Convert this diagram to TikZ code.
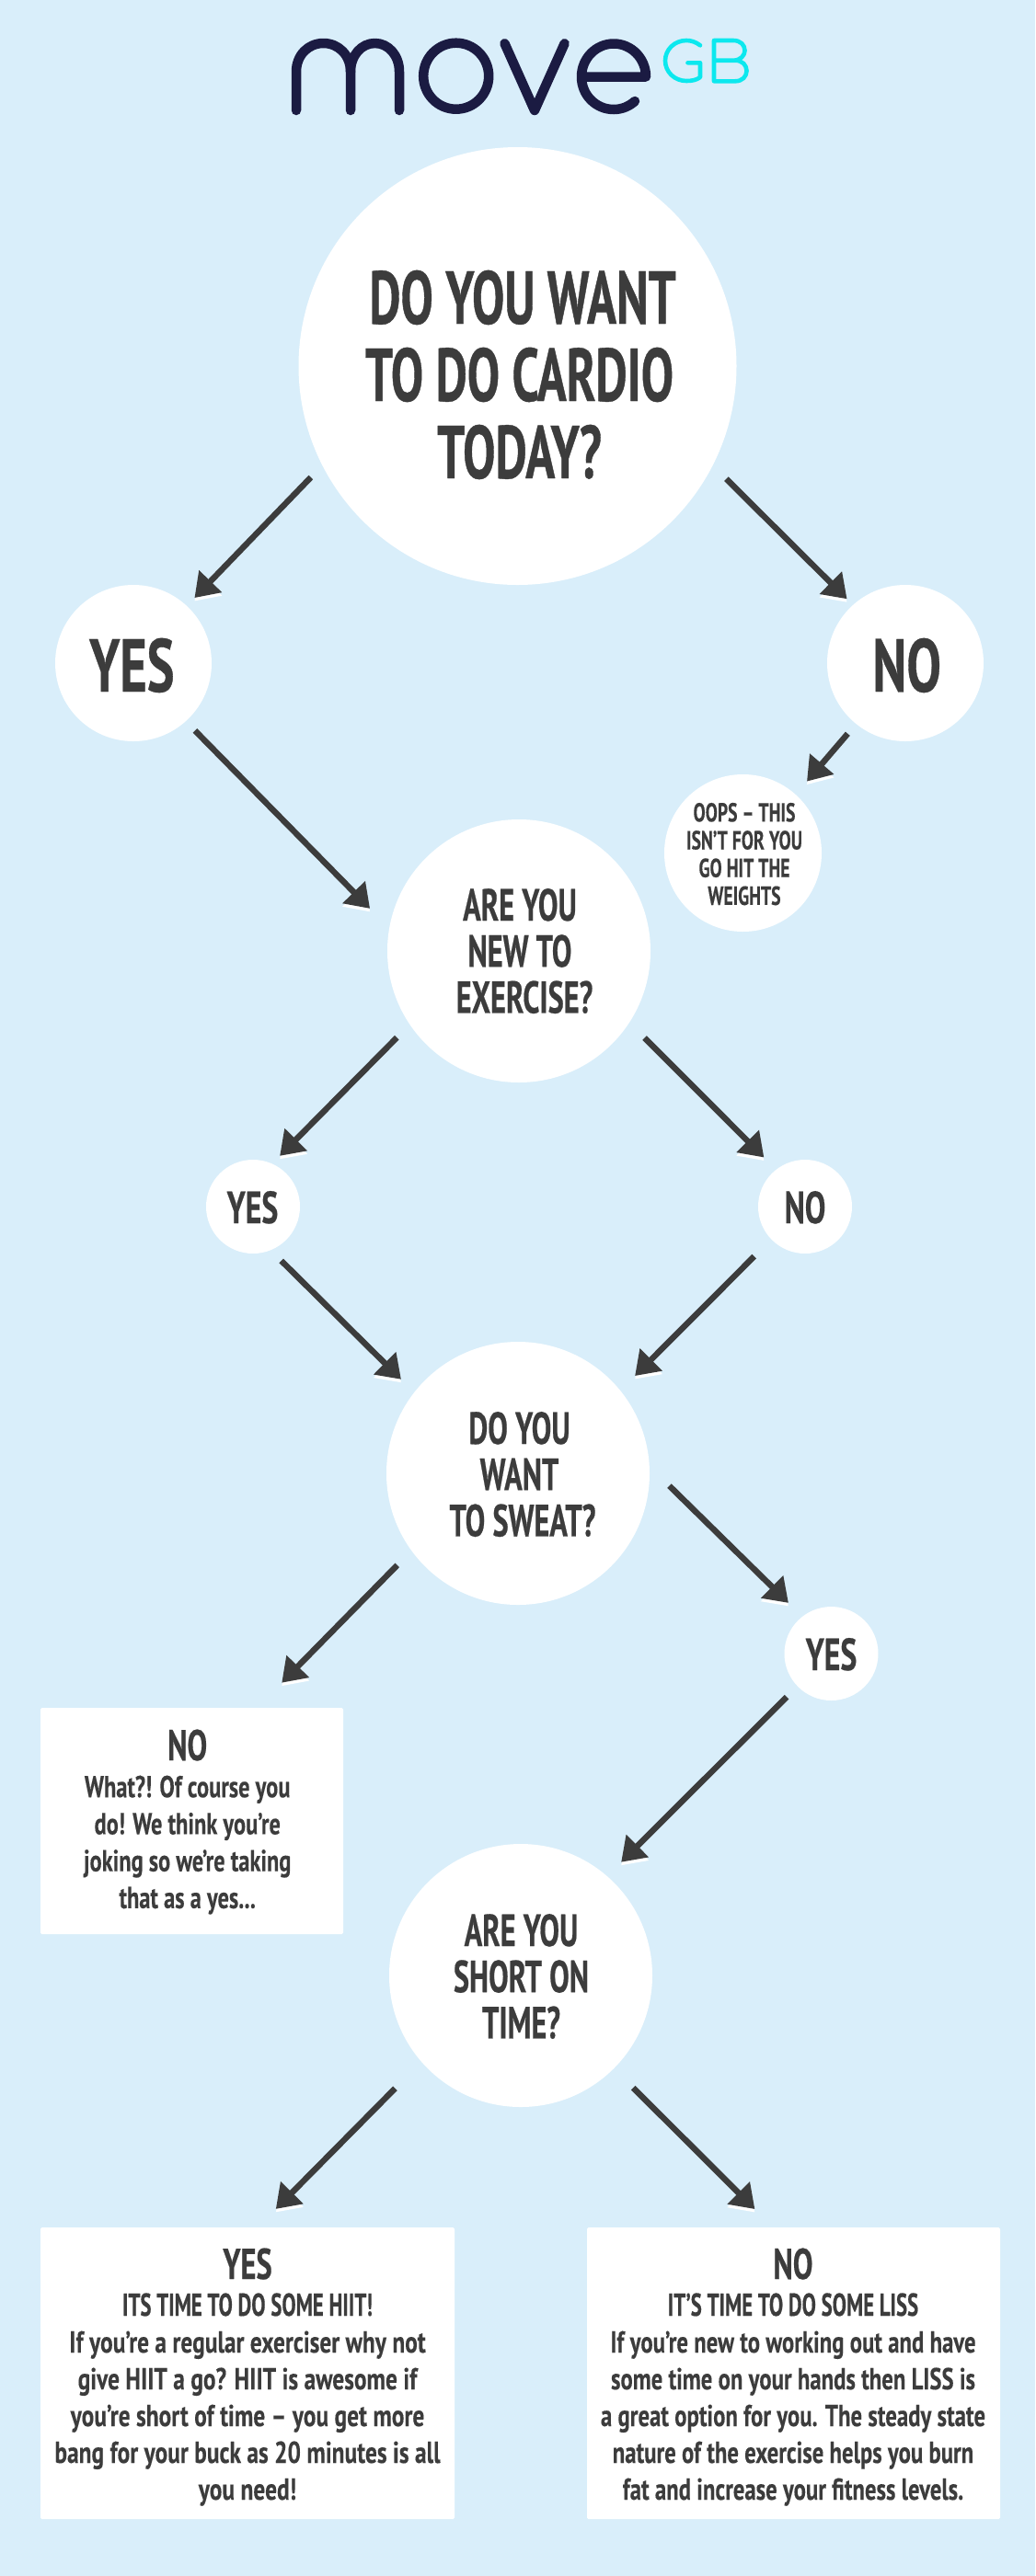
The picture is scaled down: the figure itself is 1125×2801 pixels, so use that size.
\documentclass[tikz,border=0pt]{standalone}
\usepackage{fontspec}
\usetikzlibrary{arrows.meta}
\newfontfamily\dinA[FakeStretch=0.648,FakeBold=0.5]{PT Sans}
\newfontfamily\dinB[FakeStretch=0.66,FakeBold=0.4]{PT Sans}
\newfontfamily\dinC[FakeStretch=0.69,FakeBold=0.4]{PT Sans}
\newfontfamily\dinD[FakeStretch=0.77,FakeBold=0.2]{PT Sans}
\newfontfamily\dinE[FakeStretch=0.74,FakeBold=0.2]{PT Sans}
\newfontfamily\dinG[FakeStretch=0.75,FakeBold=0.2]{PT Sans}
\newfontfamily\dinO[FakeStretch=0.69,FakeBold=0.3]{PT Sans}
\definecolor{bgblue}{RGB}{217,238,250}
\definecolor{ink}{RGB}{60,60,60}
\definecolor{navy}{RGB}{27,27,66}
\definecolor{cyanlogo}{RGB}{12,232,238}
\newcommand{\boxhead}{\dinC\bfseries\fontsize{47}{40}\selectfont}
\newcommand{\subhead}{\dinB\bfseries\fontsize{34.5}{40}\selectfont}
% text stack: horizontal shift, raise of the first baseline above the node centre, lines
\newcommand{\tx}[3]{\kern#1pt\raisebox{#2pt}[0pt][0pt]{\vtop{\lineskiplimit=-1000pt\let\\\cr\halign{\hfil##\hfil\cr#3\crcr}}}\kern-#1pt}
\tikzset{
  x=1pt,y=-1pt,
  circ/.style={circle,fill=white,inner sep=0pt,minimum size=#1,text=ink},
  bigf/.style={font=\dinA\bfseries\fontsize{81.5}{84}\selectfont},
  yesf/.style={font=\dinC\bfseries\fontsize{81.5}{84}\selectfont},
  midf/.style={font=\dinB\bfseries\fontsize{49}{50.2}\selectfont},
  smallf/.style={font=\dinC\bfseries\fontsize{49}{50}\selectfont},
  oopsf/.style={font=\dinO\bfseries\fontsize{28.5}{30.2}\selectfont},
  boxn/.style={rectangle,rounded corners=1.5pt,fill=white,inner sep=0pt,text=ink},
  finf/.style={font=\dinD\bfseries\fontsize{33}{40}\selectfont},
  fing/.style={font=\dinG\bfseries\fontsize{33}{40}\selectfont},
  nof/.style={font=\dinE\bfseries\fontsize{33}{40.2}\selectfont},
  conn/.style={line width=6.5pt,draw=ink,-{Triangle[length=25pt,width=33pt]},
    preaction={draw=white,transform canvas={yshift=-3.5pt}}},
  logoa/.style={draw=navy,line width=10.5pt,line cap=round,line join=round},
  logob/.style={draw=cyanlogo,line width=4.6pt,line cap=round,line join=round}
}
\begin{document}
\begin{tikzpicture}
\fill[bgblue] (0,0) rectangle (1125,2801);
\useasboundingbox (0,0) rectangle (1125,2801);
% logo
\draw[logoa] (322,120) -- (322,78) .. controls (322,60) and (335,47) .. (351.5,47) .. controls (368,47) and (381,60) .. (381,78) -- (381,120);
\draw[logoa] (381,78) .. controls (381,60) and (393,47) .. (407.5,47) .. controls (422,47) and (434,60) .. (434,78) -- (434,120);
\draw[logoa] (495.7,82.7) ellipse [x radius=35.5,y radius=36];
\draw[logoa] (548.5,47.3) -- (581,120) -- (613.6,47.3);
\draw[logoa] (632,83.5) -- (702,83.5) .. controls (702,63.6) and (686.3,47.5) .. (667,47.5) .. controls (647.7,47.5) and (632,63.6) .. (632,83.5) .. controls (632,103.4) and (647.7,119) .. (667,119) .. controls (676,119) and (684,115.5) .. (690,110);
\draw[logob] (761,49.3) .. controls (756,45.5) and (751,44) .. (746,44) .. controls (733,44) and (723,54) .. (723,66) .. controls (723,78) and (733,88) .. (746,88) .. controls (752,88) and (757,87) .. (761,84) -- (761,68.3) -- (747.5,68.3);
\draw[logob] (776,65.7) -- (797,65.7) .. controls (805,65.7) and (809.5,60) .. (809.5,55) .. controls (809.5,49) and (805,44) .. (797,44) -- (776,44) -- (776,88.3) -- (799,88.3) .. controls (807,88.3) and (811.5,83) .. (811.5,77) .. controls (811.5,71) and (807,65.7) .. (799,65.7) -- (797,65.7);
% nodes
\node[circ=476pt,bigf] (top) at (562.5,398) {\tx{2}{46}{\kern7pt DO YOU WANT\\TO DO CARDIO\\TODAY?}};
\node[circ=170pt,yesf] (yes1) at (145,721) {\tx{-1.7}{-31}{YES}};
\node[circ=170pt,yesf] (no1) at (984,721) {\tx{1.7}{-31}{NO}};
\node[circ=171pt,oopsf] (oops) at (807.5,927.5) {\tx{1.5}{34.2}{OOPS – THIS\\ISN’T FOR YOU\\GO HIT THE\\WEIGHTS}};
\node[circ=286pt,midf] (newq) at (564,1034) {\tx{1}{33}{ARE YOU\\NEW TO\\\kern10pt EXERCISE?}};
\node[circ=102pt,smallf] (yes2) at (275,1312) {\tx{-0.5}{-18}{YES}};
\node[circ=102pt,smallf] (no2) at (875,1312) {\tx{0}{-18}{NO}};
\node[circ=286pt,midf] (sweat) at (563,1602) {\tx{1.5}{32}{DO YOU\\WANT\\\kern7pt TO SWEAT?}};
\node[circ=102pt,smallf] (yes3) at (903.5,1798) {\tx{0}{-18}{YES}};
\node[circ=286pt,midf] (short) at (566,2148) {\tx{0.5}{32}{ARE YOU\\SHORT ON\\TIME?}};
\node[boxn,nof,minimum width=329pt,minimum height=246pt] (nobox) at (208.5,1980) {\tx{-4.8}{66}{{\boxhead NO}\\What?! Of course you\\do! We think you’re\\joking so we’re taking\\that as a yes...}};
\node[boxn,finf,minimum width=450pt,minimum height=317pt] (yesbox) at (269,2580.5) {\tx{0}{102.5}{{\boxhead YES}\\{\subhead ITS TIME TO DO SOME HIIT!}\\If you’re a regular exerciser why not\\give HIIT a go? HIIT is awesome if\\you’re short of time – you get more\\bang for your buck as 20 minutes is all\\you need!}};
\node[boxn,fing,minimum width=449pt,minimum height=317pt] (nofin) at (862.5,2580.5) {\tx{-0.5}{102.5}{{\boxhead NO}\\{\subhead IT’S TIME TO DO SOME LISS}\\If you’re new to working out and have\\some time on your hands then LISS is\\a great option for you. The steady state\\nature of the exercise helps you burn\\fat and increase your fitness levels.}};
% connectors
\draw[conn,shorten <=17.9pt,shorten >=12pt] (top.207.6) -- (yes1.47.4);
\draw[conn,shorten <=20.6pt,shorten >=9.1pt] (top.-27.1) -- (no1.132.6);
\draw[conn,shorten <=13.9pt,shorten >=18.7pt] (no1.231.2) -- (oops.48.9);
\draw[conn,shorten <=14.2pt,shorten >=29.8pt] (yes1.-48.3) -- (newq.170.9);
\draw[conn,shorten <=19.9pt,shorten >=11.8pt] (newq.214.5) -- (yes2.66.1);
\draw[conn,shorten <=23.3pt,shorten >=18.6pt] (newq.-33.3) -- (no2.128.6);
\draw[conn,shorten <=16.2pt,shorten >=20pt] (yes2.-68.7) -- (sweat.142.1);
\draw[conn,shorten <=26.1pt,shorten >=22.4pt] (no2.224.2) -- (sweat.39.6);
\draw[conn,shorten <=30.1pt,shorten >=21.1pt] (sweat.3.7) -- (yes3.128.2);
\draw[conn,shorten <=22pt,shorten >=38pt] (sweat.216.2) -- (nobox.60.9);
\draw[conn,shorten <=16.5pt,shorten >=21.5pt] (yes3.224.1) -- (short.49.4);
\draw[conn,shorten <=40.5pt,shorten >=28pt] (short.221.2) -- (yesbox.86);
\draw[conn,shorten <=29.5pt,shorten >=28pt] (short.-45.5) -- (nofin.98.8);
\end{tikzpicture}
\end{document}
